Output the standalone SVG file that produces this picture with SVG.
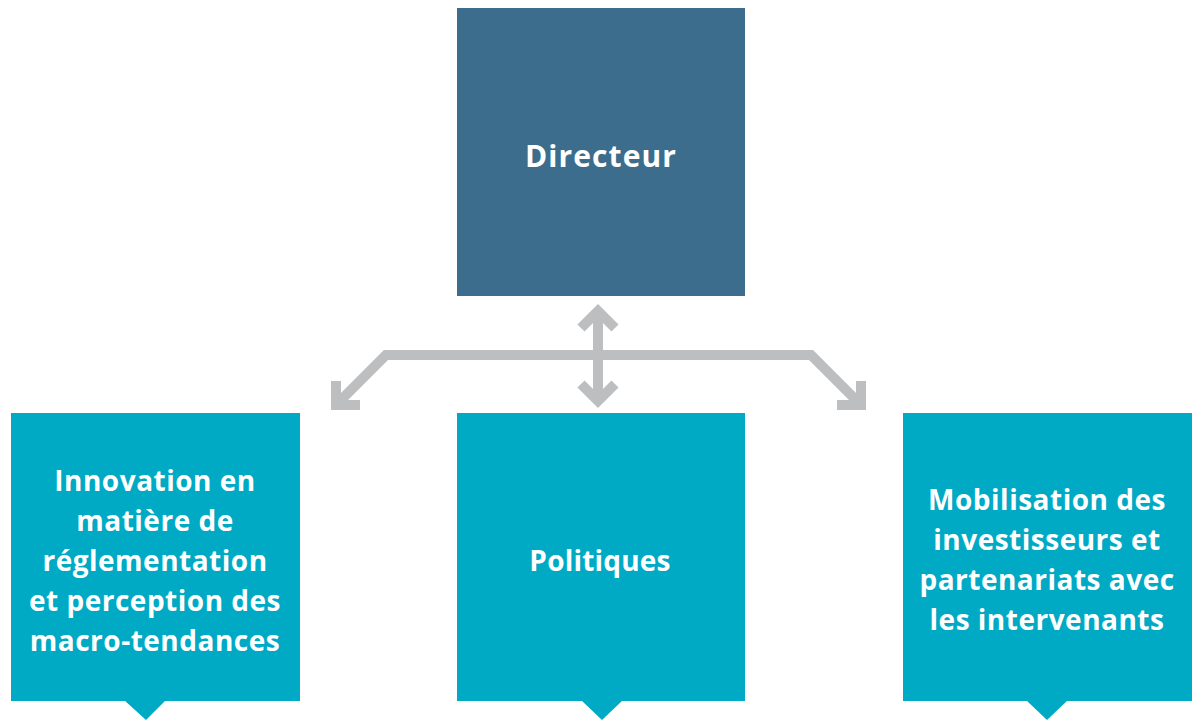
<svg xmlns="http://www.w3.org/2000/svg" width="1192" height="720" viewBox="0 0 1192 720">
<style>
.t{font-family:"Open Sans","Liberation Sans",sans-serif;font-weight:700;fill:#ffffff;text-anchor:middle;font-size:28px;letter-spacing:0.5px}
.dir{fill:#3d6d8d}
.sub{fill:#00aac5}
.c{fill:none;stroke:#bdbec0;stroke-width:10;stroke-linejoin:miter;stroke-miterlimit:10}
</style>
<rect width="1192" height="720" fill="#ffffff"/>
<g id="directeur">
<rect class="dir" x="457" y="8" width="288" height="288"/>
<text class="t" x="601" y="167" style="font-size:30px;letter-spacing:1.1px">Directeur</text>
</g>
<g id="connectors">
<path class="c" d="M598 311 L598 401"/>
<path class="c" d="M581 328 L598 311 L615 328"/>
<path class="c" d="M581 384 L598 401 L615 384"/>
<path class="c" d="M338 403 L386 355 L811 355 L859 403"/>
<path class="c" d="M336 381 L336 405 L360 405"/>
<path class="c" d="M861 381 L861 405 L837 405"/>
</g>
<g id="innovation">
<rect class="sub" x="11" y="413" width="289" height="288"/>
<path class="sub" d="M124 700 L166 700 L146 720 Z"/>
<text class="t"><tspan x="155" y="491">Innovation en</tspan><tspan x="155" y="531">matière de</tspan><tspan x="155" y="571">réglementation</tspan><tspan x="155" y="611">et perception des</tspan><tspan x="155" y="651">macro-tendances</tspan></text>
</g>
<g id="politiques">
<rect class="sub" x="457" y="413" width="288" height="288"/>
<path class="sub" d="M581 700 L623 700 L602 720 Z"/>
<text class="t" x="600" y="571" style="letter-spacing:0.2px">Politiques</text>
</g>
<g id="mobilisation">
<rect class="sub" x="903" y="413" width="289" height="288"/>
<path class="sub" d="M1026 700 L1068 700 L1047 720 Z"/>
<text class="t"><tspan x="1047" y="510">Mobilisation des</tspan><tspan x="1047" y="550">investisseurs et</tspan><tspan x="1047" y="590">partenariats avec</tspan><tspan x="1047" y="630">les intervenants</tspan></text>
</g>
</svg>
